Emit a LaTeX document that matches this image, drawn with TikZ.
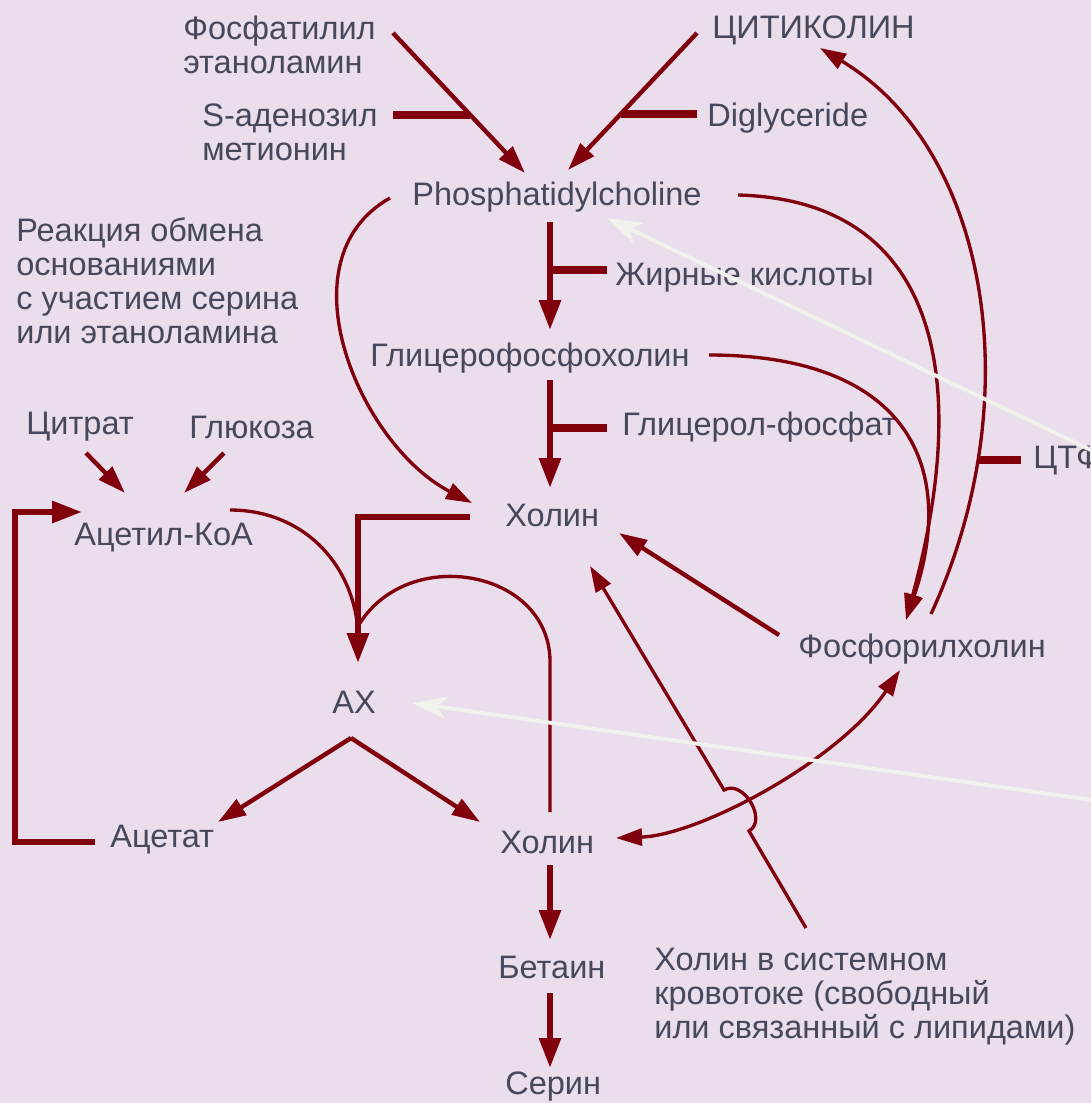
\documentclass[tikz,border=0pt]{standalone}
\usepackage{fontspec}
\setmainfont{Liberation Sans}
\usetikzlibrary{arrows.meta}
\definecolor{bgpink}{RGB}{234,221,236}
\definecolor{darkred}{RGB}{128,0,12}
\definecolor{txtgray}{RGB}{72,72,92}
\definecolor{paleline}{RGB}{242,242,236}
\begin{document}
\begin{tikzpicture}[x=0.02cm, y=-0.02cm,
        lbl/.style={anchor=west, inner sep=0pt, align=left, text=txtgray,
                font=\fontsize{18.5}{19.4}\selectfont},
        bigarrow/.style={draw=darkred, line width=3.4pt, ->, >={Triangle[length=0.6cm, width=0.42cm]}},
        arrow/.style={draw=darkred, line width=2.5pt, ->, >={Triangle[length=0.56cm, width=0.36cm]}},
        curvy/.style={draw=darkred, line width=1.9pt, ->, >={Triangle[length=0.52cm, width=0.34cm]}},
        link/.style={draw=darkred, line width=1.9pt},
        tbar/.style={draw=darkred, line width=4pt},
        hint/.style={draw=paleline, line width=2.2pt, ->, >={Stealth[length=0.7cm, width=0.45cm, inset=0.2cm]}}
    ]
    \useasboundingbox (0,0) rectangle (1091,1103);
    \clip (0,0) rectangle (1091,1103);
    \fill[bgpink] (0,0) rectangle (1091,1103);

    \node[lbl] (pe) at (183,45) {Фосфатилил\\этаноламин};
    \node[lbl] (sam) at (202,132) {S-аденозил\\метионин};
    \node[lbl] (citi) at (712,30) {ЦИТИКОЛИН};
    \node[lbl] (dig) at (707,118) {Diglyceride};
    \node[lbl] (pc) at (412,197) {Phosphatidylcholine};
    \node[lbl] (exch) at (16,281) {Реакция обмена\\основаниями\\с участием серина\\или этаноламина};
    \node[lbl] (fat) at (615,278) {Жирные кислоты};
    \node[lbl] (gpc) at (370,358) {Глицерофосфохолин};
    \node[lbl] (glp) at (622,427) {Глицерол-фосфат};
    \node[lbl] (ctp) at (1033,460) {ЦТФ};
    \node[lbl] (citr) at (26,427) {Цитрат};
    \node[lbl] (glu) at (189,427) {Глюкоза};
    \node[lbl] (acoa) at (74,538) {Ацетил-КоА};
    \node[lbl] (chol) at (505,515) {Холин};
    \node[lbl] (pch) at (798,649) {Фосфорилхолин};
    \node[lbl] (ach) at (332,702) {АХ};
    \node[lbl] (acet) at (110,840) {Ацетат};
    \node[lbl] (chol2) at (500,842) {Холин};
    \node[lbl] (bet) at (498,967) {Бетаин};
    \node[lbl] (ser) at (505,1087) {Серин};
    \node[lbl] (blood) at (654,997) {Холин в системном\\кровотоке (свободный\\или связанный с липидами)};

    \coordinate (peS) at (393,33);
    \coordinate (peE) at (525,173);
    \coordinate (samE) at (393,115);
    \coordinate (samJ) at (470,115);
    \coordinate (citS) at (697,33);
    \coordinate (citE) at (568,170);
    \coordinate (digE) at (697,114);
    \coordinate (digJ) at (621,114);
    \coordinate (pcB) at (550,222);
    \coordinate (gpcT) at (550,330);
    \coordinate (fatE) at (607,270);
    \coordinate (fatJ) at (550,270);
    \coordinate (gpcB) at (550,380);
    \coordinate (cholT) at (550,488);
    \coordinate (glpE) at (607,428);
    \coordinate (glpJ) at (550,428);
    \coordinate (pcL) at (390,198);
    \coordinate (cholL) at (472,503);
    \coordinate (pcR) at (738,195);
    \coordinate (gpcR) at (709,355);
    \coordinate (pchT) at (906,620);
    \coordinate (pchR) at (931,614);
    \coordinate (citB) at (820,48);
    \coordinate (ctpW) at (1021,460);
    \coordinate (ctpJ) at (977,460);
    \coordinate (pchL) at (779,635);
    \coordinate (cholR) at (619,533);
    \coordinate (bloodT) at (806,928);
    \coordinate (hopA) at (749,831);
    \coordinate (hopB) at (724,790);
    \coordinate (cholB) at (590,566);
    \coordinate (chol2R) at (616,838);
    \coordinate (pchB) at (900,670);
    \coordinate (cholW) at (470,517);
    \coordinate (achJ) at (358,517);
    \coordinate (achT) at (358,663);
    \coordinate (acoaR) at (230,510);
    \coordinate (achM) at (358,630);
    \coordinate (chol2T) at (550,812);
    \coordinate (cholUp) at (550,660);
    \coordinate (achM2) at (360,623);
    \coordinate (achB) at (351,738);
    \coordinate (acetT) at (218,822);
    \coordinate (chol2L) at (480,822);
    \coordinate (acetE) at (95,842);
    \coordinate (loopB) at (15,842);
    \coordinate (loopT) at (15,512);
    \coordinate (acoaL) at (82,512);
    \coordinate (chol2B) at (550,865);
    \coordinate (betT) at (550,940);
    \coordinate (betB) at (550,993);
    \coordinate (serT) at (550,1068);
    \coordinate (citrS) at (86,453);
    \coordinate (citrE) at (125,493);
    \coordinate (gluS) at (224,453);
    \coordinate (gluE) at (184,493);
    \coordinate (edgeA) at (1091,450);
    \coordinate (pcH) at (607,218);
    \coordinate (edgeB) at (1091,800);
    \coordinate (achH) at (412,703);

    \draw[arrow] (peS) -- (peE);
    \draw[tbar] (samE) -- (samJ);
    \draw[arrow] (citS) -- (citE);
    \draw[tbar] (digE) -- (digJ);
    \draw[bigarrow] (pcB) -- (gpcT);
    \draw[tbar] (fatE) -- (fatJ);
    \draw[bigarrow] (gpcB) -- (cholT);
    \draw[tbar] (glpE) -- (glpJ);
    \draw[curvy] (pcL) .. controls (280,260) and (360,445) .. (cholL);
    \draw[curvy] (pcR) .. controls (930,200) and (975,365) .. (pchT);
    \draw[curvy] (gpcR) .. controls (900,355) and (960,460) .. (pchT);
    \draw[curvy] (pchR) .. controls (1030,400) and (990,150) .. (citB);
    \draw[tbar] (ctpW) -- (ctpJ);
    \draw[arrow] (pchL) -- (cholR);
    \draw[curvy] (bloodT) -- (hopA) .. controls (768,820) and (743,779) .. (hopB) -- (cholB);
    \draw[curvy, <->] (chol2R) .. controls (700,835) and (840,760) .. (pchB);
    \draw[bigarrow] (cholW) -- (achJ) -- (achT);
    \draw[link] (acoaR) .. controls (300,510) and (352,560) .. (achM);
    \draw[link] (chol2T) -- (cholUp) .. controls (548,570) and (410,545) .. (achM2);
    \draw[arrow] (achB) -- (acetT);
    \draw[arrow] (achB) -- (chol2L);
    \draw[bigarrow] (acetE) -- (loopB) -- (loopT) -- (acoaL);
    \draw[bigarrow] (chol2B) -- (betT);
    \draw[bigarrow] (betB) -- (serT);
    \draw[arrow] (citrS) -- (citrE);
    \draw[arrow] (gluS) -- (gluE);
    \draw[hint] (edgeA) -- (pcH);
    \draw[hint] (edgeB) -- (achH);
\end{tikzpicture}
\end{document}
